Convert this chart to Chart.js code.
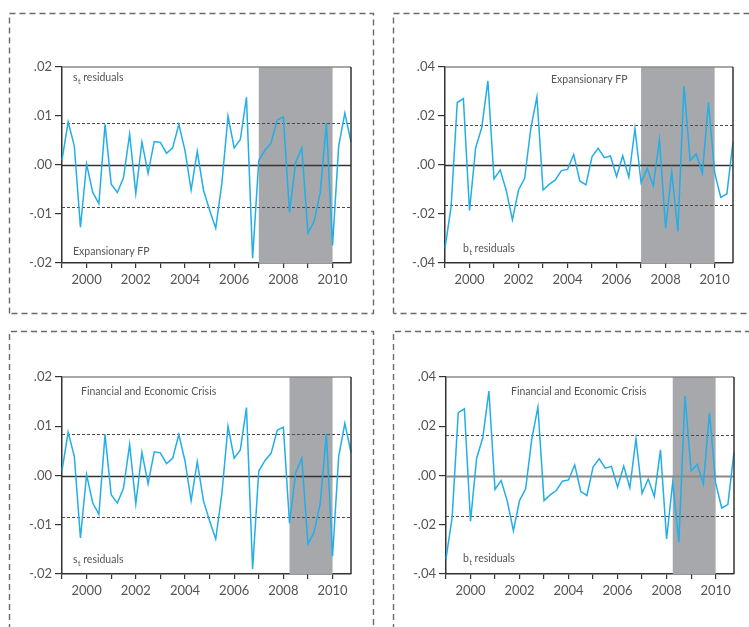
<!DOCTYPE html>
<html>
<head>
<meta charset="utf-8">
<script src="https://cdn.jsdelivr.net/npm/chart.js@4/dist/chart.umd.min.js"></script>
<style>
  html, body { margin: 0; padding: 0; background: #fff; }
  #wrap { position: relative; width: 749px; height: 627px; overflow: hidden; }
  #wrap canvas { position: absolute; left: 0; top: 0; }
</style>
</head>
<body>
<div id="wrap">
  <canvas id="frame" width="749" height="627"></canvas>
  <canvas id="p1" width="749" height="627"></canvas>
  <canvas id="p2" width="749" height="627"></canvas>
  <canvas id="p3" width="749" height="627"></canvas>
  <canvas id="p4" width="749" height="627"></canvas>
</div>
<script>
// Quarterly sample, 1999Q1 - 2010Q4
const quarters = [
  '1999Q1','1999Q2','1999Q3','1999Q4','2000Q1','2000Q2','2000Q3','2000Q4',
  '2001Q1','2001Q2','2001Q3','2001Q4','2002Q1','2002Q2','2002Q3','2002Q4',
  '2003Q1','2003Q2','2003Q3','2003Q4','2004Q1','2004Q2','2004Q3','2004Q4',
  '2005Q1','2005Q2','2005Q3','2005Q4','2006Q1','2006Q2','2006Q3','2006Q4',
  '2007Q1','2007Q2','2007Q3','2007Q4','2008Q1','2008Q2','2008Q3','2008Q4',
  '2009Q1','2009Q2','2009Q3','2009Q4','2010Q1','2010Q2','2010Q3','2010Q4'
];

// Residuals of the s_t equation
const sResiduals = [
   0.0010,  0.0088,  0.0039, -0.0127,  0.0002, -0.0056, -0.0079,  0.0083,
  -0.0039, -0.0056, -0.0026,  0.0063, -0.0058,  0.0047, -0.0017,  0.0048,
   0.0046,  0.0024,  0.0035,  0.0083,  0.0030, -0.0051,  0.0028, -0.0051,
  -0.0092, -0.0129, -0.0037,  0.0100,  0.0035,  0.0052,  0.0138, -0.0190,
   0.0009,  0.0030,  0.0045,  0.0092,  0.0098, -0.0097,  0.0005,  0.0035,
  -0.0139, -0.0115, -0.0056,  0.0085, -0.0164,  0.0039,  0.0106,  0.0047
];

// Residuals of the b_t equation
const bResiduals = [
  -0.0339, -0.0170,  0.0255,  0.0271, -0.0186,  0.0070,  0.0153,  0.0343,
  -0.0057, -0.0020, -0.0104, -0.0224, -0.0102, -0.0054,  0.0149,  0.0278,
  -0.0102, -0.0079, -0.0061, -0.0023, -0.0018,  0.0043, -0.0065, -0.0081,
   0.0034,  0.0068,  0.0030,  0.0037, -0.0047,  0.0038, -0.0050,  0.0149,
  -0.0072, -0.0014, -0.0085,  0.0104, -0.0258, -0.0027, -0.0271,  0.0323,
   0.0018,  0.0045, -0.0034,  0.0255, -0.0030, -0.0132, -0.0118,  0.0095
];

// One standard-error bands
const sBand = 0.0085;
const bBand = 0.0165;

// Y-axis ticks
const sTicks = [-0.02, -0.01, 0, 0.01, 0.02];
const bTicks = [-0.04, -0.02, 0, 0.02, 0.04];

// Shaded periods
const fpPeriod = ['2007Q1', '2010Q1'];
const crisisPeriod = ['2008Q2', '2010Q1'];

const BLUE = '#22aee8';
const SHADE = '#a7a8ab';
const AXIS = '#333333';
const TEXT = '#555555';
const FONT = 'Lato, "Open Sans", sans-serif';
const YW = 50;   // y-axis box width
const XH = 28;   // x-axis box height

// Dashed panel frames
(function drawFrames() {
  const ctx = document.getElementById('frame').getContext('2d');
  ctx.strokeStyle = '#6a6a6a';
  ctx.lineWidth = 1.4;
  ctx.setLineDash([6, 4]);
  const boxes = [[9.5, 13.5, 373.5, 313.5], [393.5, 13.5, 770, 313.5],
                 [9.5, 331.5, 373.5, 660], [393.5, 331.5, 770, 660]];
  boxes.forEach(([l, t, r, b]) => {
    ctx.beginPath();
    ctx.moveTo(l, b); ctx.lineTo(l, t); ctx.lineTo(r, t); ctx.lineTo(r, b); ctx.lineTo(l, b);
    ctx.stroke();
  });
})();

function fmtTick(v) {
  if (Math.abs(v) < 1e-9) return '.00';
  return (v < 0 ? '-' : '') + Math.abs(v).toFixed(2).slice(1);
}

// Label with a subscript, e.g. s_t residuals
function drawNote(ctx, x, y, note) {
  ctx.save();
  ctx.fillStyle = TEXT;
  ctx.textBaseline = 'middle';
  ctx.textAlign = 'left';
  if (note.sub) {
    ctx.font = '10.5px ' + FONT;
    ctx.fillText(note.main, x, y);
    let w = ctx.measureText(note.main).width;
    ctx.font = '7px ' + FONT;
    ctx.fillText(note.sub, x + w + 0.5, y + 3.5);
    w += ctx.measureText(note.sub).width + 0.5;
    ctx.font = '10.5px ' + FONT;
    ctx.fillText(note.rest, x + w, y);
  } else {
    ctx.font = '10.5px ' + FONT;
    ctx.fillText(note.main, x, y);
  }
  ctx.restore();
}

const panelDecor = {
  id: 'panelDecor',
  beforeDatasetsDraw(chart, args, opts) {
    const { ctx, chartArea: a, scales: { x, y } } = chart;
    ctx.save();
    // shaded period
    const x0 = x.getPixelForValue(quarters.indexOf(opts.shade[0]));
    const x1 = x.getPixelForValue(quarters.indexOf(opts.shade[1]));
    ctx.fillStyle = SHADE;
    ctx.fillRect(x0, a.top, x1 - x0, a.bottom - a.top);
    // standard-error bands
    ctx.strokeStyle = '#4a4a4a';
    ctx.lineWidth = 1;
    ctx.setLineDash([3, 2]);
    [opts.band, -opts.band].forEach(v => {
      const py = Math.round(y.getPixelForValue(v)) + 0.5;
      ctx.beginPath(); ctx.moveTo(a.left, py); ctx.lineTo(a.right, py); ctx.stroke();
    });
    // zero line
    ctx.setLineDash([]);
    ctx.strokeStyle = opts.zeroColor;
    ctx.lineWidth = opts.zeroWidth;
    const pz = Math.round(y.getPixelForValue(0)) + 0.5;
    ctx.beginPath(); ctx.moveTo(a.left, pz); ctx.lineTo(a.right, pz); ctx.stroke();
    ctx.restore();
  },
  afterDraw(chart, args, opts) {
    const { ctx, chartArea: a } = chart;
    ctx.save();
    // top and right edges of the plot box
    ctx.lineWidth = 1.5;
    ctx.strokeStyle = '#8a8a8a';
    ctx.beginPath(); ctx.moveTo(a.left, a.top); ctx.lineTo(a.right, a.top); ctx.stroke();
    ctx.strokeStyle = AXIS;
    ctx.beginPath(); ctx.moveTo(a.right, a.top); ctx.lineTo(a.right, a.bottom); ctx.stroke();
    ctx.restore();
    opts.notes.forEach(n => {
      const px = a.left + n.dx;
      const py = n.fromTop ? a.top + n.dy : a.bottom - n.dy;
      drawNote(ctx, px, py, n);
    });
  }
};

function makePanel(id, area, values, ticks, band, shade, notes, zeroColor, zeroWidth) {
  const lim = ticks[ticks.length - 1];
  return new Chart(document.getElementById(id), {
    type: 'line',
    data: {
      labels: quarters,
      datasets: [{
        data: values,
        borderColor: BLUE,
        borderWidth: 1.5,
        pointRadius: 0,
        tension: 0,
        fill: false
      }]
    },
    options: {
      responsive: false,
      animation: false,
      events: [],
      layout: {
        padding: { left: area.l - YW, top: area.t, right: 749 - area.r, bottom: 627 - area.b - XH }
      },
      plugins: {
        legend: { display: false },
        tooltip: { enabled: false },
        panelDecor: { shade, band, notes, zeroColor, zeroWidth }
      },
      scales: {
        x: {
          type: 'category',
          offset: false,
          afterBuildTicks: ax => { ax.ticks = ax.ticks.filter(t => quarters[t.value].endsWith('Q1')); },
          afterFit: ax => { ax.height = XH; },
          grid: { drawOnChartArea: false, drawTicks: true, tickLength: 5, color: AXIS, lineWidth: 1.2 },
          border: { color: AXIS, width: 1.5 },
          ticks: {
            autoSkip: false, maxRotation: 0, padding: 4, color: TEXT,
            font: { family: FONT, size: 13 },
            callback: v => {
              const yr = quarters[v].slice(0, 4);
              return (+yr % 2 === 0) ? yr : '';
            }
          }
        },
        y: {
          min: -lim, max: lim,
          afterBuildTicks: ax => { ax.ticks = ticks.map(v => ({ value: v })); },
          afterFit: ax => { ax.width = YW; },
          grid: { drawOnChartArea: false, drawTicks: true, tickLength: 7, color: AXIS, lineWidth: 1.2 },
          border: { color: AXIS, width: 1.5 },
          ticks: {
            padding: 3, color: TEXT,
            font: { family: FONT, size: 13 },
            callback: v => fmtTick(v)
          }
        }
      }
    },
    plugins: [panelDecor]
  });
}

const sNote = { main: 's', sub: 't', rest: ' residuals' };
const bNote = { main: 'b', sub: 't', rest: ' residuals' };

makePanel('p1', { l: 62, t: 67, r: 351, b: 263 }, sResiduals, sTicks, sBand, fpPeriod, [
  Object.assign({ dx: 11, dy: 11, fromTop: true }, sNote),
  { main: 'Expansionary FP', dx: 11, dy: 11, fromTop: false }
], AXIS, 1.5);

makePanel('p2', { l: 445, t: 67, r: 733, b: 263 }, bResiduals, bTicks, bBand, fpPeriod, [
  { main: 'Expansionary FP', dx: 106, dy: 13, fromTop: true },
  Object.assign({ dx: 18, dy: 14, fromTop: false }, bNote)
], AXIS, 1.5);

makePanel('p3', { l: 62, t: 377, r: 351, b: 574 }, sResiduals, sTicks, sBand, crisisPeriod, [
  { main: 'Financial and Economic Crisis', dx: 19, dy: 15, fromTop: true },
  Object.assign({ dx: 11, dy: 14, fromTop: false }, sNote)
], AXIS, 1.5);

makePanel('p4', { l: 446, t: 377, r: 734, b: 574 }, bResiduals, bTicks, bBand, crisisPeriod, [
  { main: 'Financial and Economic Crisis', dx: 65, dy: 15, fromTop: true },
  Object.assign({ dx: 17, dy: 15, fromTop: false }, bNote)
], '#8a8a8a', 2);
</script>
</body>
</html>
